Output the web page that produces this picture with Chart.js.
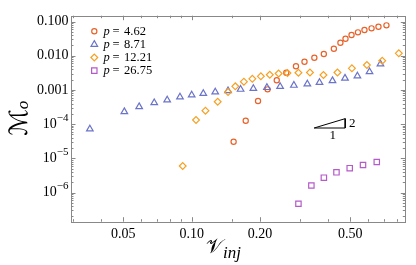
<!DOCTYPE html>
<html>
<head>
<meta charset="utf-8">
<script src="https://cdn.jsdelivr.net/npm/chart.js@4.4.1/dist/chart.umd.min.js"></script>
<style>
  html, body { margin: 0; padding: 0; background: #fff; }
  #wrap { width: 416px; height: 265px; }
</style>
</head>
<body>
<div id="wrap"><canvas id="chart" width="416" height="265"></canvas></div>
<script>
// series (x = V_inj, y = M_o)
const labels = ['4.62', '8.71', '12.21', '26.75'];

const x462 = [0.153, 0.173, 0.196, 0.216, 0.237, 0.261, 0.288, 0.314, 0.347, 0.382, 0.423, 0.452, 0.476, 0.506, 0.540, 0.577, 0.620, 0.665, 0.721];
const y462 = [3.06e-5, 1.26e-4, 4.73e-4, 1.04e-3, 1.91e-3, 3.18e-3, 4.90e-3, 6.68e-3, 8.74e-3, 0.0112, 0.0160, 0.0240, 0.0314, 0.0403, 0.0483, 0.0564, 0.0632, 0.0705, 0.0774];

const x871 = [0.0356, 0.0505, 0.0587, 0.0684, 0.0780, 0.0888, 0.100, 0.1125, 0.127, 0.1446, 0.1642, 0.1869, 0.2145, 0.2452, 0.282, 0.3232, 0.3656, 0.4171, 0.4735, 0.537, 0.6073, 0.6785];
const y871 = [7.19e-5, 2.31e-4, 3.23e-4, 4.20e-4, 5.07e-4, 6.20e-4, 7.10e-4, 7.85e-4, 8.68e-4, 9.41e-4, 1.04e-3, 1.10e-3, 1.17e-3, 1.26e-3, 1.36e-3, 1.49e-3, 1.64e-3, 1.86e-3, 2.20e-3, 2.55e-3, 3.40e-3, 5.72e-3];

const x1221 = [0.0913, 0.1045, 0.115, 0.1302, 0.1446, 0.1556, 0.1698, 0.185, 0.2017, 0.2208, 0.2415, 0.2641, 0.2953, 0.3319, 0.3806, 0.4387, 0.5079, 0.5913, 0.691, 0.8172];
const y1221 = [5.96e-6, 1.32e-4, 2.47e-4, 4.52e-4, 8.68e-4, 1.27e-3, 1.74e-3, 2.11e-3, 2.50e-3, 2.78e-3, 3.02e-3, 3.10e-3, 3.18e-3, 3.23e-3, 2.73e-3, 3.23e-3, 4.28e-3, 5.35e-3, 7.14e-3, 0.01175];

const x2675 = [0.2953, 0.3367, 0.3822, 0.4343, 0.4967, 0.5685, 0.6536];
const y2675 = [4.68e-7, 1.60e-6, 2.71e-6, 3.90e-6, 5.14e-6, 6.37e-6, 7.80e-6];

// slope-2 guide triangle
const slopeX = [0.3463, 0.4745];
const slopeY0 = 7.69e-5;

// axes
const xMin = 0.0294, xMax = 0.873;
const yMin = 1.4e-7, yMax = 0.148;
const xTicks = [0.05, 0.1, 0.2, 0.5];
const xTickLabels = ['0.05', '0.10', '0.20', '0.50'];
const xMinor = [0.03, 0.04, 0.06, 0.07, 0.08, 0.09, 0.15, 0.3, 0.4, 0.6, 0.7, 0.8];
const yTicks = [1e-1, 1e-2, 1e-3, 1e-4, 1e-5, 1e-6];
const yTickLabels = ['0.100', '0.010', '0.001', '10^-4', '10^-5', '10^-6'];

const colors = ['#e8632b', '#6b74c9', '#f6a125', '#b55ac9'];
const styles = ['circle', 'triangle', 'rectRot', 'rect'];
const radii = [2.6, 3.8, 3.4, 3.8];
const markerLine = 1.2;

const serif = '"Liberation Serif", "Times New Roman", serif';

function pts(xs, ys) {
  return xs.map((x, i) => ({ x: x, y: ys[i] }));
}

const seriesX = [x462, x871, x1221, x2675];
const seriesY = [y462, y871, y1221, y2675];

const datasets = labels.map((lab, i) => ({
  label: 'p = ' + lab,
  data: pts(seriesX[i], seriesY[i]),
  pointStyle: styles[i],
  pointRadius: radii[i],
  pointBorderWidth: markerLine,
  borderColor: colors[i],
  backgroundColor: 'rgba(255,255,255,0)',
  showLine: false,
  order: 4 - i,
}));

const slopeY1 = slopeY0 * Math.pow(slopeX[1] / slopeX[0], 2);
datasets.push({
  label: 'slope',
  data: [
    { x: slopeX[0], y: slopeY0 },
    { x: slopeX[1], y: slopeY1 },
    { x: slopeX[1], y: slopeY0 },
    { x: slopeX[0], y: slopeY0 },
  ],
  showLine: true,
  pointRadius: 0,
  borderColor: '#000',
  borderWidth: 1,
  order: 0,
});

// frame with inward ticks, y labels, titles, legend
const decorations = {
  id: 'decorations',
  beforeDatasetsDraw(chart) {
    const ctx = chart.ctx;
    const a = chart.chartArea;
    const xs = chart.scales.x, ys = chart.scales.y;
    ctx.save();
    ctx.strokeStyle = '#888';
    ctx.lineWidth = 1;
    ctx.strokeRect(Math.round(a.left) + 0.5, Math.round(a.top) + 0.5,
      Math.round(a.right - a.left), Math.round(a.bottom - a.top));
    ctx.beginPath();
    const xt = (v, len) => {
      const px = Math.round(xs.getPixelForValue(v)) + 0.5;
      ctx.moveTo(px, a.bottom); ctx.lineTo(px, a.bottom - len);
      ctx.moveTo(px, a.top); ctx.lineTo(px, a.top + len);
    };
    const yt = (v, len) => {
      const py = Math.round(ys.getPixelForValue(v)) + 0.5;
      ctx.moveTo(a.left, py); ctx.lineTo(a.left + len, py);
      ctx.moveTo(a.right, py); ctx.lineTo(a.right - len, py);
    };
    xTicks.forEach(v => xt(v, 4.5));
    xMinor.forEach(v => xt(v, 2.5));
    for (let k = -7; k <= -1; k++) {
      for (let m = 1; m <= 9; m++) {
        const v = m * Math.pow(10, k);
        if (v < yMin || v > yMax) continue;
        yt(v, m === 1 ? 4.5 : 2.5);
      }
    }
    ctx.stroke();
    ctx.restore();
  },
  afterDraw(chart) {
    const ctx = chart.ctx;
    const a = chart.chartArea;
    const xs = chart.scales.x, ys = chart.scales.y;
    ctx.save();
    ctx.fillStyle = '#000';

    // y tick labels
    yTicks.forEach((v, i) => {
      const py = ys.getPixelForValue(v);
      const txt = yTickLabels[i];
      const right = a.left - 2.5;
      if (txt.indexOf('^') < 0) {
        ctx.font = '14px ' + serif;
        ctx.textAlign = 'right';
        ctx.textBaseline = 'middle';
        ctx.fillText(txt, right, py);
      } else {
        const parts = txt.split('^');
        const exp = parts[1].replace('-', '\u2212');
        ctx.font = '11px ' + serif;
        const ew = ctx.measureText(exp).width;
        ctx.textAlign = 'right';
        ctx.textBaseline = 'alphabetic';
        ctx.fillText(exp, right, py - 3.5);
        ctx.font = '14px ' + serif;
        ctx.textBaseline = 'middle';
        ctx.fillText(parts[0], right - ew, py);
      }
    });

    // x axis title
    ctx.textAlign = 'left';
    ctx.textBaseline = 'alphabetic';
    ctx.font = '20px "DejaVu Serif", "DejaVu Sans", serif';
    const vx = 206;
    ctx.fillText('\u{1D4B1}', vx, 253);
    const vw = ctx.measureText('\u{1D4B1}').width;
    ctx.font = 'italic 17px ' + serif;
    ctx.fillText('inj', vx + vw, 258);

    // y axis title (rotated)
    ctx.save();
    ctx.translate(27, 136);
    ctx.rotate(-Math.PI / 2);
    ctx.font = '25px "DejaVu Serif", "DejaVu Sans", serif';
    ctx.fillText('\u2133', 0, 0);
    const mw = ctx.measureText('\u2133').width;
    ctx.font = 'italic 17px ' + serif;
    ctx.fillText('o', mw, 1);
    ctx.restore();

    // slope labels
    const sx0 = xs.getPixelForValue(slopeX[0]);
    const sx1 = xs.getPixelForValue(slopeX[1]);
    const sy0 = ys.getPixelForValue(slopeY0);
    const sy1 = ys.getPixelForValue(slopeY1);
    ctx.font = '13px ' + serif;
    ctx.textAlign = 'center';
    ctx.textBaseline = 'middle';
    ctx.fillText('2', sx1 + 7, (sy0 + sy1) / 2);
    ctx.fillText('1', (sx0 + sx1) / 2 + 3, sy0 + 8);

    // legend
    labels.forEach((lab, i) => {
      const ly = 31.3 + 13.1 * i;
      ctx.strokeStyle = colors[i];
      ctx.fillStyle = 'rgba(255,255,255,0)';
      ctx.lineWidth = markerLine;
      Chart.helpers.drawPoint(ctx, {
        pointStyle: styles[i], radius: radii[i], rotation: 0, borderWidth: markerLine,
      }, 94.3, ly);
      ctx.fillStyle = '#000';
      ctx.textAlign = 'left';
      ctx.textBaseline = 'middle';
      ctx.font = 'italic 12.5px ' + serif;
      ctx.fillText('p', 103.5, ly);
      ctx.font = '12.5px ' + serif;
      ctx.fillText('=', 112.5, ly);
      ctx.fillText(lab, 124, ly);
    });
    ctx.restore();
  },
};

new Chart(document.getElementById('chart'), {
  type: 'scatter',
  data: { datasets: datasets },
  options: {
    responsive: false,
    devicePixelRatio: 1,
    animation: false,
    layout: { padding: { left: 71, right: 10.7, top: 15.7, bottom: 0 } },
    plugins: { legend: { display: false }, tooltip: { enabled: false } },
    scales: {
      x: {
        type: 'logarithmic',
        min: xMin,
        max: xMax,
        grid: { display: false, drawTicks: false },
        border: { display: false },
        afterBuildTicks: (scale) => {
          scale.ticks = xTicks.map(v => ({ value: v }));
        },
        afterFit: (scale) => { scale.height = 43.3; },
        ticks: {
          autoSkip: false,
          maxRotation: 0,
          padding: 4,
          color: '#000',
          font: { family: serif, size: 14 },
          callback: (value) => xTickLabels[xTicks.indexOf(value)],
        },
      },
      y: {
        type: 'logarithmic',
        display: false,
        min: yMin,
        max: yMax,
      },
    },
  },
  plugins: [decorations],
});
</script>
</body>
</html>
